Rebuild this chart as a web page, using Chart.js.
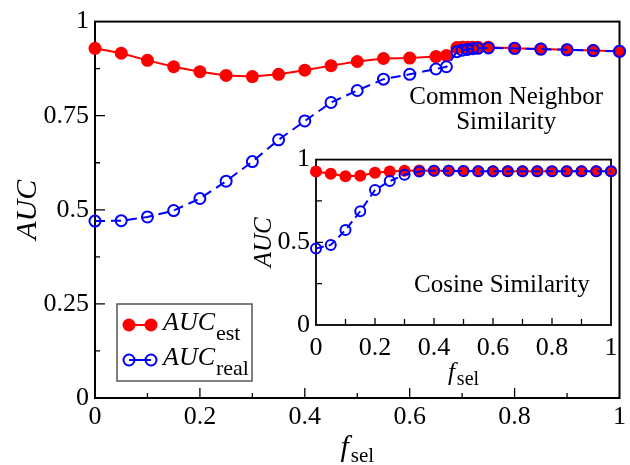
<!DOCTYPE html>
<html>
<head>
<meta charset="utf-8">
<script src="https://cdn.jsdelivr.net/npm/chart.js@4.4.0/dist/chart.umd.min.js"></script>
<style>
  body { margin: 0; background: #fff; }
  #wrap { position: relative; width: 630px; height: 465px; }
  #mainChart { position: absolute; left: 0; top: 0; }
  #insetChart { position: absolute; left: 240px; top: 138px; }
</style>
</head>
<body>
<div id="wrap">
  <canvas id="mainChart" width="630" height="465"></canvas>
  <canvas id="insetChart" width="390" height="262"></canvas>
</div>
<script>
// main plot: common neighbor similarity
const fSel = [0, 0.05, 0.1, 0.15, 0.2, 0.25, 0.3, 0.35, 0.4, 0.45, 0.5, 0.55, 0.6, 0.65, 0.67,
  0.69, 0.70, 0.71, 0.72, 0.73, 0.75, 0.8, 0.85, 0.9, 0.95, 1.0]
const aucEst = [0.929, 0.916, 0.897, 0.880, 0.867, 0.857, 0.854, 0.860, 0.871, 0.883, 0.894, 0.902, 0.903, 0.907, 0.910,
  0.931, 0.932, 0.932, 0.932, 0.932, 0.932, 0.929, 0.927, 0.925, 0.923, 0.921]
const aucReal = [0.470, 0.471, 0.481, 0.498, 0.530, 0.576, 0.628, 0.686, 0.736, 0.785, 0.817, 0.847, 0.860, 0.874, 0.880,
  0.920, 0.924, 0.926, 0.928, 0.929, 0.930, 0.929, 0.927, 0.925, 0.923, 0.921]

// inset: cosine similarity
const fSelInset = [0, 0.05, 0.1, 0.15, 0.2, 0.25, 0.3, 0.35, 0.4, 0.45, 0.5, 0.55, 0.6, 0.65, 0.7, 0.75, 0.8, 0.85, 0.9, 0.95, 1.0]
const aucEstInset = [0.928, 0.914, 0.899, 0.902, 0.921, 0.928, 0.933, 0.934, 0.933, 0.932, 0.931, 0.930, 0.930, 0.930, 0.930,
  0.930, 0.930, 0.929, 0.929, 0.929, 0.929]
const aucRealInset = [0.463, 0.484, 0.574, 0.688, 0.816, 0.870, 0.908, 0.928, 0.932, 0.932, 0.931, 0.930, 0.930, 0.930, 0.930,
  0.930, 0.930, 0.929, 0.929, 0.929, 0.929]

// tick marks
const xMajorTicks = [0.2, 0.4, 0.6, 0.8]
const xMinorTicks = [0.1, 0.3, 0.5, 0.7, 0.9]
const yMajorTicks = [0.25, 0.5, 0.75]
const yMinorTicks = [0.125, 0.375, 0.625, 0.875]
const insetYMajorTicks = [0.5]
const insetYMinorTicks = [0.25, 0.75]

const SERIF = "'Liberation Serif', 'Times New Roman', serif"
const RED = '#ff0000'
const BLUE = '#0000ff'

Chart.defaults.font.family = SERIF
Chart.defaults.color = '#000'

function toPoints(xs, ys) {
  return xs.map((x, i) => ({ x: x, y: ys[i] }))
}

function tickLabel(v) {
  return +v.toFixed(2)
}

// frame box + inward ticks, drawn under the points
const framePlugin = {
  id: 'frame',
  beforeDatasetsDraw(chart, args, o) {
    const { ctx, chartArea: a, scales } = chart
    ctx.save()
    ctx.strokeStyle = '#000'
    ctx.lineWidth = o.lineWidth
    ctx.strokeRect(a.left, a.top, a.width, a.height)
    ctx.lineWidth = 1.3
    ctx.beginPath()
    o.xMajor.forEach(v => { const p = scales.x.getPixelForValue(v); ctx.moveTo(p, a.bottom); ctx.lineTo(p, a.bottom - o.major) })
    o.xMinor.forEach(v => { const p = scales.x.getPixelForValue(v); ctx.moveTo(p, a.bottom); ctx.lineTo(p, a.bottom - o.minor) })
    o.yMajor.forEach(v => { const p = scales.y.getPixelForValue(v); ctx.moveTo(a.left, p); ctx.lineTo(a.left + o.major, p) })
    o.yMinor.forEach(v => { const p = scales.y.getPixelForValue(v); ctx.moveTo(a.left, p); ctx.lineTo(a.left + o.minor, p) })
    ctx.stroke()
    ctx.restore()
  }
}

// axis titles with subscripts, annotations and the legend
const textPlugin = {
  id: 'texts',
  afterDraw(chart, args, o) {
    const { ctx, chartArea: a, scales } = chart
    ctx.save()
    ctx.fillStyle = '#000'

    // y title
    ctx.save()
    ctx.translate(a.left - o.yTitleOffset, (a.top + a.bottom) / 2)
    ctx.rotate(-Math.PI / 2)
    ctx.font = 'italic ' + o.titleSize + 'px ' + SERIF
    ctx.textAlign = 'center'
    ctx.textBaseline = 'alphabetic'
    ctx.fillText('AUC', 0, o.titleSize * 0.33)
    ctx.restore()

    // x title f_sel
    ctx.font = 'italic ' + o.titleSize + 'px ' + SERIF
    const fW = ctx.measureText('f').width
    ctx.font = o.subSize + 'px ' + SERIF
    const sW = ctx.measureText('sel').width
    const x0 = (a.left + a.right) / 2 - (fW + sW + 2) / 2
    ctx.textAlign = 'left'
    ctx.font = 'italic ' + o.titleSize + 'px ' + SERIF
    ctx.fillText('f', x0, a.bottom + o.xTitleBase)
    ctx.font = o.subSize + 'px ' + SERIF
    ctx.fillText('sel', x0 + fW + 2, a.bottom + o.xTitleBase + o.subDrop)

    // annotation text
    ctx.font = o.noteSize + 'px ' + SERIF
    ctx.textAlign = 'center'
    o.notes.forEach(n => {
      ctx.fillText(n.text, scales.x.getPixelForValue(n.x), scales.y.getPixelForValue(n.y))
    })

    // legend
    if (o.legend) {
      const lx = a.left + 22, ly = a.bottom - 94
      ctx.strokeStyle = '#555'
      ctx.lineWidth = 1.5
      ctx.strokeRect(lx, ly, 135, 77)
      const rows = [
        { y: ly + 21, sub: 'est', color: RED, filled: true, r: 6.5 },
        { y: ly + 56, sub: 'real', color: BLUE, filled: false, r: 5.5 }
      ]
      rows.forEach(row => {
        ctx.strokeStyle = row.color
        ctx.fillStyle = row.color
        ctx.lineWidth = 2
        ctx.beginPath()
        ctx.moveTo(lx + 12, row.y)
        ctx.lineTo(lx + 34, row.y)
        ctx.stroke()
        ;[lx + 12, lx + 34].forEach(cx => {
          ctx.beginPath()
          ctx.arc(cx, row.y, row.r, 0, Math.PI * 2)
          if (row.filled) ctx.fill(); else ctx.stroke()
        })
        ctx.fillStyle = '#000'
        ctx.textAlign = 'left'
        ctx.font = 'italic 26px ' + SERIF
        ctx.fillText('AUC', lx + 46, row.y + 5)
        const w = ctx.measureText('AUC').width
        ctx.font = '22px ' + SERIF
        ctx.fillText(row.sub, lx + 46 + w + 1, row.y + 15)
      })
    }
    ctx.restore()
  }
}

function scaleOptions(axis, size, pad) {
  const o = {
    type: 'linear', min: 0, max: 1,
    grid: { display: false, drawTicks: false },
    border: { display: false },
    ticks: {
      font: { family: SERIF, size: 26 },
      color: '#000', padding: pad, maxRotation: 0, autoSkip: false,
      callback: tickLabel
    }
  }
  if (axis === 'x') o.afterFit = s => { s.height = size }
  else o.afterFit = s => { s.width = size }
  return o
}

// main chart
const mainX = scaleOptions('x', 67, 4)
mainX.ticks.stepSize = 0.2
const mainY = scaleOptions('y', 95, 6)
mainY.ticks.stepSize = 0.25

new Chart(document.getElementById('mainChart'), {
  type: 'scatter',
  data: {
    datasets: [{
      label: 'AUC real',
      data: toPoints(fSel, aucReal),
      showLine: true, order: 0, clip: false,
      borderColor: BLUE, borderWidth: 2, borderDash: [10, 6],
      pointRadius: 5.5, pointBorderWidth: 2,
      pointBorderColor: BLUE, pointBackgroundColor: 'rgba(0,0,0,0)'
    }, {
      label: 'AUC est',
      data: toPoints(fSel, aucEst),
      showLine: true, order: 1, clip: false,
      borderColor: RED, borderWidth: 2,
      pointRadius: 6.5, pointBorderWidth: 0,
      pointBackgroundColor: RED
    }]
  },
  options: {
    responsive: false, animation: false, devicePixelRatio: 1,
    layout: { autoPadding: false, padding: { left: 0, top: 12, right: 3, bottom: 0 } },
    scales: { x: mainX, y: mainY },
    plugins: {
      legend: { display: false }, tooltip: { enabled: false },
      frame: { lineWidth: 2, major: 10, minor: 5, xMajor: xMajorTicks, xMinor: xMinorTicks, yMajor: yMajorTicks, yMinor: yMinorTicks },
      texts: {
        titleSize: 30, subSize: 21, yTitleOffset: 69, xTitleBase: 58, subDrop: 6, noteSize: 25, legend: true,
        notes: [{ text: 'Common Neighbor', x: 0.784, y: 0.78 }, { text: 'Similarity', x: 0.784, y: 0.715 }]
      }
    }
  },
  plugins: [framePlugin, textPlugin]
})

// inset chart
const insetX = scaleOptions('x', 75, 8)
insetX.ticks.stepSize = 0.2
const insetY = scaleOptions('y', 76, 6)
insetY.ticks.stepSize = 0.5

new Chart(document.getElementById('insetChart'), {
  type: 'scatter',
  data: {
    datasets: [{
      label: 'AUC real',
      data: toPoints(fSelInset, aucRealInset),
      showLine: true, order: 0, clip: false,
      borderColor: BLUE, borderWidth: 2, borderDash: [8, 5],
      pointRadius: 5, pointBorderWidth: 2,
      pointBorderColor: BLUE, pointBackgroundColor: 'rgba(0,0,0,0)'
    }, {
      label: 'AUC est',
      data: toPoints(fSelInset, aucEstInset),
      showLine: true, order: 1, clip: false,
      borderColor: RED, borderWidth: 2,
      pointRadius: 6, pointBorderWidth: 0,
      pointBackgroundColor: RED
    }]
  },
  options: {
    responsive: false, animation: false, devicePixelRatio: 1,
    layout: { autoPadding: false, padding: { left: 0, top: 13, right: 19, bottom: 0 } },
    scales: { x: insetX, y: insetY },
    plugins: {
      legend: { display: false }, tooltip: { enabled: false },
      frame: { lineWidth: 1.8, major: 7, minor: 6, xMajor: xMajorTicks, xMinor: xMinorTicks, yMajor: insetYMajorTicks, yMinor: insetYMinorTicks },
      texts: {
        titleSize: 25, subSize: 20, yTitleOffset: 53, xTitleBase: 55, subDrop: 5, noteSize: 25, legend: false,
        notes: [{ text: 'Cosine Similarity', x: 0.63, y: 0.2 }]
      }
    }
  },
  plugins: [framePlugin, textPlugin]
})
</script>
</body>
</html>
